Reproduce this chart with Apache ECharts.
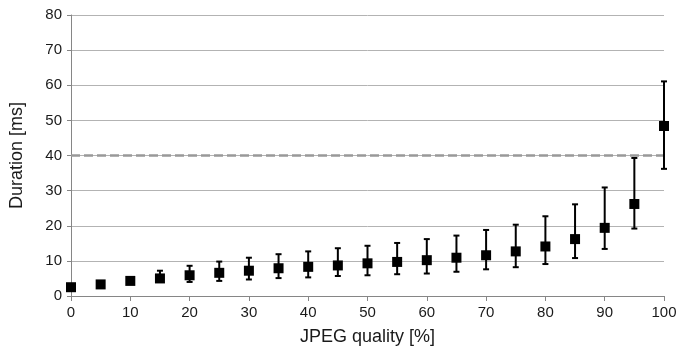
<!DOCTYPE html>
<html lang="en">
<head>
    <meta charset="UTF-8">
    <title>JPEG quality vs duration</title>
    <style>
        html, body { margin: 0; padding: 0; background: #fff; }
    </style>
</head>
<body>
    <div id="chart" style="width: 678px;height:347px;"></div>
    <script src="https://cdn.jsdelivr.net/npm/echarts@6/dist/echarts.min.js"></script>
    <script type="text/javascript">
       // JPEG quality (%) and measured duration (ms): mean, lower and upper error bar
       var quality = [0, 5, 10, 15, 20, 25, 30, 35, 40, 45, 50, 55, 60, 65, 70, 75, 80, 85, 90, 95, 100];
       var durationMean = [2.5, 3.3, 4.3, 5.0, 5.9, 6.6, 7.2, 7.9, 8.3, 8.7, 9.3, 9.7, 10.2, 10.9, 11.6, 12.7, 14.1, 16.2, 19.4, 26.2, 48.4];
       var durationLow = [2.2, 3.0, 3.7, 4.3, 4.0, 4.3, 4.7, 5.1, 5.3, 5.7, 5.9, 6.2, 6.4, 6.9, 7.6, 8.2, 9.1, 10.8, 13.4, 19.2, 36.2];
       var durationHigh = [2.8, 3.6, 5.4, 7.2, 8.6, 9.8, 10.9, 11.9, 12.7, 13.6, 14.3, 15.1, 16.2, 17.2, 18.8, 20.3, 22.7, 26.1, 30.9, 39.3, 61.1];
       // 40 ms limit, drawn a little past the last tick like in the original
       var limitMs = 40;
       var limitX = [0, 101.3];

       var myChart = echarts.init(document.getElementById('chart'));

       var points = [];
       var bars = [];
       for (var i = 0; i < quality.length; i++) {
           points.push([quality[i], durationMean[i]]);
           bars.push([quality[i], durationLow[i], durationHigh[i]]);
       }

       // error bar with short caps
       function renderErrorBar(params, api) {
           var lo = api.coord([api.value(0), api.value(1)]);
           var hi = api.coord([api.value(0), api.value(2)]);
           var cap = 3;
           var style = { stroke: '#000', lineWidth: 2 };
           return {
               type: 'group',
               children: [
                   { type: 'line', shape: { x1: lo[0], y1: lo[1], x2: hi[0], y2: hi[1] }, style: style },
                   { type: 'line', shape: { x1: lo[0] - cap, y1: lo[1], x2: lo[0] + cap, y2: lo[1] }, style: style },
                   { type: 'line', shape: { x1: hi[0] - cap, y1: hi[1], x2: hi[0] + cap, y2: hi[1] }, style: style }
               ]
           };
       }

       var font = 'Liberation Sans';
       var option = {
           animation: false,
           grid: { left: 71, right: 14, top: 15, bottom: 51, outerBoundsMode: 'none', containLabel: false },
           xAxis: {
               type: 'value',
               min: 0, max: 100, interval: 10,
               name: 'JPEG quality [%]',
               nameLocation: 'middle',
               nameGap: 32,
               nameTextStyle: { fontFamily: font, fontSize: 18, color: '#1a1a1a' },
               axisLine: { lineStyle: { color: '#868686', width: 1 } },
               axisTick: { show: true, length: 5, lineStyle: { color: '#868686' } },
               axisLabel: { fontFamily: font, fontSize: 15, color: '#1a1a1a', margin: 9 },
               splitLine: { show: false }
           },
           yAxis: {
               type: 'value',
               min: 0, max: 80, interval: 10,
               name: 'Duration [ms]',
               nameLocation: 'middle',
               nameGap: 45,
               nameTextStyle: { fontFamily: font, fontSize: 18, color: '#1a1a1a' },
               axisLine: { show: true, lineStyle: { color: '#868686', width: 1 } },
               axisTick: { show: true, length: 4, lineStyle: { color: '#868686' } },
               axisLabel: { fontFamily: font, fontSize: 15, color: '#1a1a1a', margin: 9 },
               splitLine: { show: true, lineStyle: { color: '#b3b3b3', width: 1 } }
           },
           series: [
               {
                   type: 'line',
                   data: limitX.map(function (x) { return [x, limitMs]; }),
                   symbol: 'none',
                   clip: false,
                   silent: true,
                   lineStyle: { color: '#999999', type: [9, 4], width: 2.5 },
                   z: 2
               },
               {
                   type: 'custom',
                   renderItem: renderErrorBar,
                   data: bars,
                   z: 3
               },
               {
                   type: 'scatter',
                   data: points,
                   symbol: 'rect',
                   symbolSize: 10,
                   clip: false,
                   itemStyle: { color: '#000', opacity: 1 },
                   z: 4
               }
           ]
       };
       myChart.setOption(option);
    </script>
</body>
</html>
